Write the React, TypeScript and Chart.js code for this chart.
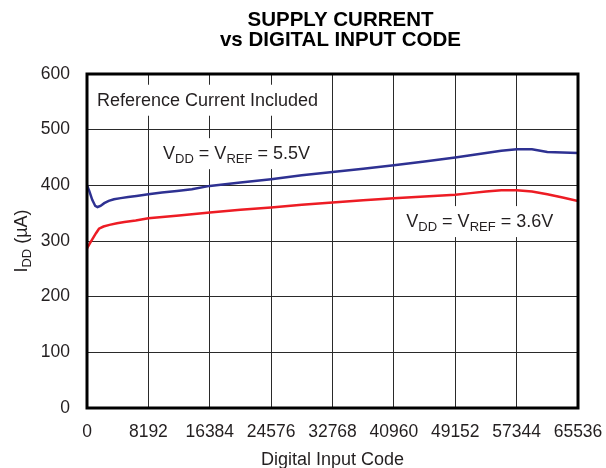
import React, { useEffect, useRef } from 'react';
import { Chart, registerables } from 'chart.js';

Chart.register(...registerables);

const FONT = '"Liberation Sans", Arial, Helvetica, sans-serif';
const TEXT = '#231f20';
const GRID = '#2a2a2a';
const BLUE = '#2e3192';
const RED = '#ed1c24';

const titleLines = ['SUPPLY CURRENT', 'vs DIGITAL INPUT CODE'];
const xAxisTitle = 'Digital Input Code';
const xMin = 0;
const xMax = 65536;
const xStep = 8192;
const yMin = 0;
const yMax = 600;
const yStep = 100;

// VDD = VREF = 5.5V
const codes55 = [0, 300, 700, 1100, 1400, 1800, 2300, 2900, 3600, 4500, 5500, 6600, 8192, 10000, 12000, 14000, 16384, 20480, 24576, 28672, 32768, 36864, 40960, 45056, 49152, 53248, 55296, 57344, 59392, 61440, 63488, 65536];
const current55 = [400, 390, 374, 363, 361, 363, 368, 372, 375, 377, 379, 381, 384, 387, 390, 393, 399, 405, 411, 418, 424, 430, 436, 443, 450, 458, 462, 465, 465, 460, 459, 458];

// VDD = VREF = 3.6V
const codes36 = [0, 400, 800, 1200, 1600, 2200, 3000, 4000, 5000, 6500, 8192, 12288, 16384, 20480, 24576, 28672, 32768, 36864, 40960, 45056, 49152, 51200, 53248, 55296, 57344, 59392, 61440, 63488, 65536];
const current36 = [287, 296, 305, 314, 322, 326, 329, 332, 334, 337, 341, 346, 351, 356, 360, 365, 369, 373, 377, 380, 383, 386, 389, 391, 391, 389, 384, 378, 372];

type Part = { text: string; sub?: boolean };

const yTitleParts: Part[] = [{ text: 'I' }, { text: 'DD', sub: true }, { text: ' (\u00B5A)' }];

// annotation anchors in data units: [code, current] of text left/baseline
const annotations: { parts: Part[]; at: [number, number] }[] = [
  { parts: [{ text: 'Reference Current Included' }], at: [1336, 543] },
  { parts: [{ text: 'V' }, { text: 'DD', sub: true }, { text: ' = V' }, { text: 'REF', sub: true }, { text: ' = 5.5V' }], at: [10154, 447] },
  { parts: [{ text: 'V' }, { text: 'DD', sub: true }, { text: ' = V' }, { text: 'REF', sub: true }, { text: ' = 3.6V' }], at: [42622, 325] },
];

const MAIN = 18;
const SUB = 13;

function measureParts(ctx: CanvasRenderingContext2D, parts: Part[]) {
  let w = 0;
  for (const p of parts) {
    ctx.font = `${p.sub ? SUB : MAIN}px ${FONT}`;
    w += ctx.measureText(p.text).width;
  }
  return w;
}

function drawParts(ctx: CanvasRenderingContext2D, parts: Part[], x: number, y: number) {
  let cx = x;
  ctx.textAlign = 'left';
  ctx.textBaseline = 'alphabetic';
  for (const p of parts) {
    ctx.font = `${p.sub ? SUB : MAIN}px ${FONT}`;
    ctx.fillText(p.text, cx, p.sub ? y + 4 : y);
    cx += ctx.measureText(p.text).width;
  }
}

const decorPlugin = {
  id: 'decor',
  beforeDatasetsDraw(chart: any) {
    const ctx: CanvasRenderingContext2D = chart.ctx;
    const xs = chart.scales.x;
    const ys = chart.scales.y;
    ctx.save();
    for (const a of annotations) {
      const px = xs.getPixelForValue(a.at[0]);
      const py = ys.getPixelForValue(a.at[1]);
      const w = measureParts(ctx, a.parts);
      ctx.fillStyle = '#ffffff';
      ctx.fillRect(px - 5, py - 21, w + 10, 31);
      ctx.fillStyle = TEXT;
      drawParts(ctx, a.parts, px, py);
    }
    ctx.restore();
  },
  afterDatasetsDraw(chart: any) {
    const ctx: CanvasRenderingContext2D = chart.ctx;
    const area = chart.chartArea;
    ctx.save();
    ctx.strokeStyle = '#000000';
    ctx.lineWidth = 3;
    ctx.strokeRect(area.left, area.top, area.right - area.left, area.bottom - area.top);
    ctx.restore();
  },
  afterDraw(chart: any) {
    const ctx: CanvasRenderingContext2D = chart.ctx;
    const area = chart.chartArea;
    ctx.save();
    ctx.fillStyle = '#000000';
    ctx.textAlign = 'center';
    ctx.textBaseline = 'alphabetic';
    ctx.font = `bold 20.5px ${FONT}`;
    const cx = (area.left + area.right) / 2 + 8;
    ctx.fillText(titleLines[0], cx, 26);
    ctx.fillText(titleLines[1], cx, 46);

    ctx.fillStyle = TEXT;
    ctx.font = `${MAIN}px ${FONT}`;
    ctx.fillText(xAxisTitle, (area.left + area.right) / 2, 465);

    // y axis title, rotated
    ctx.translate(21, (area.top + area.bottom) / 2);
    ctx.rotate(-Math.PI / 2);
    const w = measureParts(ctx, yTitleParts);
    drawParts(ctx, yTitleParts, -w / 2, 6);
    ctx.restore();
  },
};

export default function App() {
  const ref = useRef<HTMLCanvasElement | null>(null);
  useEffect(() => {
    if (!ref.current) return;
    const chart = new Chart(ref.current, {
      type: 'line',
      data: {
        datasets: [
          {
            label: 'VDD = VREF = 5.5V',
            data: codes55.map((c, i) => ({ x: c, y: current55[i] })),
            borderColor: BLUE,
            borderWidth: 2.5,
            pointRadius: 0,
            tension: 0,
            fill: false,
          },
          {
            label: 'VDD = VREF = 3.6V',
            data: codes36.map((c, i) => ({ x: c, y: current36[i] })),
            borderColor: RED,
            borderWidth: 2.5,
            pointRadius: 0,
            tension: 0,
            fill: false,
          },
        ],
      },
      options: {
        animation: false,
        responsive: false,
        layout: { padding: { top: 74, right: 28, left: 0, bottom: 0 } },
        plugins: {
          legend: { display: false },
          title: { display: false },
          tooltip: { enabled: false },
        },
        scales: {
          x: {
            type: 'linear',
            min: xMin,
            max: xMax,
            ticks: {
              stepSize: xStep,
              autoSkip: false,
              maxRotation: 0,
              callback: (v: any) => String(v),
              font: { family: FONT, size: 17.5 },
              color: TEXT,
              padding: 14,
            },
            grid: { color: GRID, lineWidth: 1, drawTicks: false },
            border: { display: false },
            afterFit: (s: any) => {
              s.height = 60;
              s.paddingLeft = 0;
              s.paddingRight = 0;
            },
          },
          y: {
            type: 'linear',
            min: yMin,
            max: yMax,
            ticks: {
              stepSize: yStep,
              font: { family: FONT, size: 17.5 },
              color: TEXT,
              padding: 17,
            },
            grid: { color: GRID, lineWidth: 1, drawTicks: false },
            border: { display: false },
            afterFit: (s: any) => {
              s.width = 87;
              s.paddingTop = 0;
              s.paddingBottom = 0;
            },
          },
        },
      } as any,
      plugins: [decorPlugin],
    });
    return () => chart.destroy();
  }, []);
  return (
    <div style={{ position: 'fixed', left: 0, top: 0, width: 606, height: 468, background: '#fff' }}>
      <canvas ref={ref} width={606} height={468} />
    </div>
  );
}
